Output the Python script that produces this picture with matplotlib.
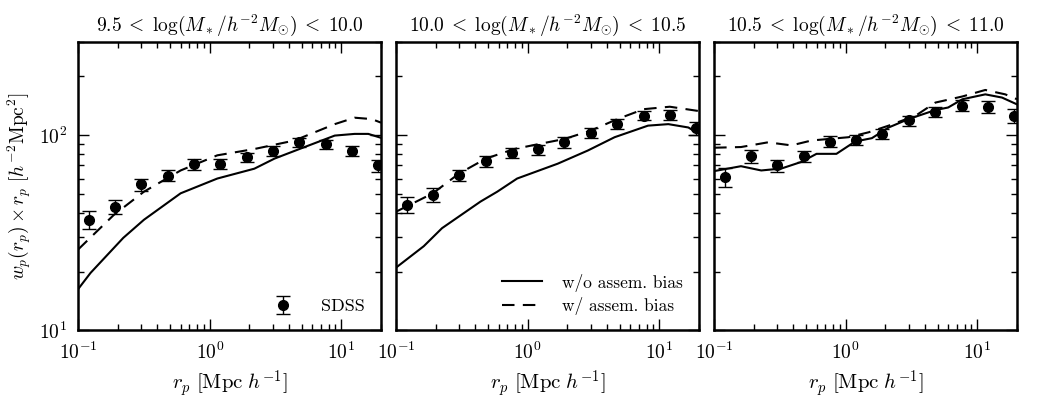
import matplotlib
matplotlib.use('Agg')
import matplotlib.pyplot as plt
from matplotlib.ticker import LogLocator, NullFormatter

plt.rcParams['font.family'] = 'serif'
plt.rcParams['font.serif'] = ['cmr10', 'DejaVu Serif']
plt.rcParams['mathtext.fontset'] = 'cm'
plt.rcParams['axes.formatter.use_mathtext'] = True
plt.rcParams['axes.unicode_minus'] = False

# SDSS measurements (same rp bins in every panel)
rp_data = [0.12, 0.19, 0.30, 0.48, 0.76, 1.2, 1.9, 3.0, 4.8, 7.6, 12.0, 19.0]
sdss_1 = [37, 43, 56, 62, 71, 71.5, 77, 83, 92, 90, 83, 70]
sdss_err_1 = [4, 3.5, 4, 4, 4.5, 4.5, 4.5, 5, 5, 5, 5, 5]
sdss_2 = [44, 49.5, 62.4, 73.5, 81.3, 84.6, 92, 103, 114, 126, 127, 108.6]
sdss_err_2 = [4, 4, 4, 4.5, 5, 5, 5.5, 6, 6.5, 7, 8, 8]
sdss_3 = [61, 78, 70, 78, 92.8, 94.6, 102, 119, 132, 142, 140, 126]
sdss_err_3 = [7, 6, 5, 5, 6, 6, 6, 7, 8, 9, 10, 10]

# model without assembly bias
rp_noab_1 = [0.1, 0.124, 0.22, 0.316, 0.6, 1.14, 2.18, 3.1, 5.25, 8.9, 12.6, 16.0, 20.0]
noab_1 = [16.3, 19.7, 29.8, 36.9, 50.4, 60, 67.4, 75.9, 87, 99.6, 101.6, 101.6, 97]
rp_noab_2 = [0.1, 0.162, 0.223, 0.437, 0.587, 0.83, 1.69, 2.86, 4.57, 8.2, 11.7, 16.6, 20.0]
noab_2 = [21, 27, 33.4, 45.7, 51.4, 60, 71.5, 83.5, 97.7, 112, 114, 109.6, 101.6]
rp_noab_3 = [0.1, 0.16, 0.228, 0.324, 0.46, 0.6, 0.85, 1.18, 1.58, 2.12, 3.0, 4.8, 6.0, 7.7, 11.5, 15.4, 20.0]
noab_3 = [65.5, 69.4, 66, 67.5, 73, 80.3, 80.3, 92.9, 96.6, 109.6, 121, 134.6, 138.7, 152.9, 162, 156, 144]

# model with assembly bias
rp_ab_1 = [0.1, 0.186, 0.316, 0.6, 1.14, 2.18, 4.4, 8.9, 12.6, 17.0, 20.0]
ab_1 = [26, 39, 51.4, 66, 78.9, 85, 94, 114, 123, 121, 116]
rp_ab_2 = [0.1, 0.19, 0.30, 0.48, 0.79, 1.2, 1.9, 3.0, 4.8, 7.6, 12.0, 20.0]
ab_2 = [40.6, 50.4, 63.6, 75.9, 85, 90, 95.7, 105.5, 121, 136, 140, 133]
rp_ab_3 = [0.1, 0.16, 0.257, 0.387, 0.55, 1.05, 1.49, 2.12, 3.4, 4.8, 7.7, 11.5, 16.3, 20.0]
ab_3 = [86.3, 87, 92, 88.7, 94, 97.7, 103.5, 112, 126, 147, 158, 170.6, 162, 153]

titles = [r'$9.5\;<\;\log(M_*/h^{-2}M_{\odot})\;<\;10.0$',
          r'$10.0\;<\;\log(M_*/h^{-2}M_{\odot})\;<\;10.5$',
          r'$10.5\;<\;\log(M_*/h^{-2}M_{\odot})\;<\;11.0$']

panels = [
	(sdss_1, sdss_err_1, rp_noab_1, noab_1, rp_ab_1, ab_1),
	(sdss_2, sdss_err_2, rp_noab_2, noab_2, rp_ab_2, ab_2),
	(sdss_3, sdss_err_3, rp_noab_3, noab_3, rp_ab_3, ab_3),
]

fig, axes = plt.subplots(1, 3, figsize=(10.43, 4.13), dpi=100, sharey=True)
fig.subplots_adjust(left=0.075, right=0.975, bottom=0.2, top=0.898, wspace=0.05)

for i, ax in enumerate(axes):
	sdss, err, rpn, noab, rpa, ab = panels[i]
	l1, = ax.plot(rpn, noab, 'k-', lw=1.5, label='w/o assem. bias')
	l2, = ax.plot(rpa, ab, 'k--', lw=1.5, dashes=(6, 4), label='w/ assem. bias')
	eb = ax.errorbar(rp_data, sdss, yerr=err, fmt='o', color='k', ms=7,
	                 capsize=5, elinewidth=1, capthick=1, label='SDSS')
	ax.set_xscale('log')
	ax.set_yscale('log')
	ax.set_xlim(0.1, 20)
	ax.set_ylim(10, 300)
	ax.set_title(titles[i], fontsize=14, pad=8)
	ax.set_xlabel(r'$r_p\ [{\rm Mpc}\ h^{-1}]$', fontsize=15)
	ax.tick_params(which='both', direction='in', top=True, right=True, labelsize=14, pad=8)
	ax.tick_params(which='major', length=8, width=1)
	ax.tick_params(which='minor', length=4, width=1)
	ax.yaxis.set_minor_locator(LogLocator(base=10, subs=range(2, 10)))
	ax.yaxis.set_minor_formatter(NullFormatter())
	for s in ax.spines.values():
		s.set_linewidth(1.8)
	if i == 0:
		ax.set_ylabel(r'$w_p(r_p)\times r_p\ [h^{-2}{\rm Mpc}^2]$', fontsize=14)
		ax.legend([eb], ['SDSS'], loc='lower right', frameon=False, fontsize=13,
		          handletextpad=1.1)
	else:
		ax.tick_params(labelleft=False)
	if i == 1:
		ax.legend([l1, l2], ['w/o assem. bias', 'w/ assem. bias'], loc='lower right',
		          frameon=False, fontsize=12.5, handlelength=2.3, handletextpad=1.2,
		          labelspacing=0.3)

fig.savefig('out.png', dpi=100)
